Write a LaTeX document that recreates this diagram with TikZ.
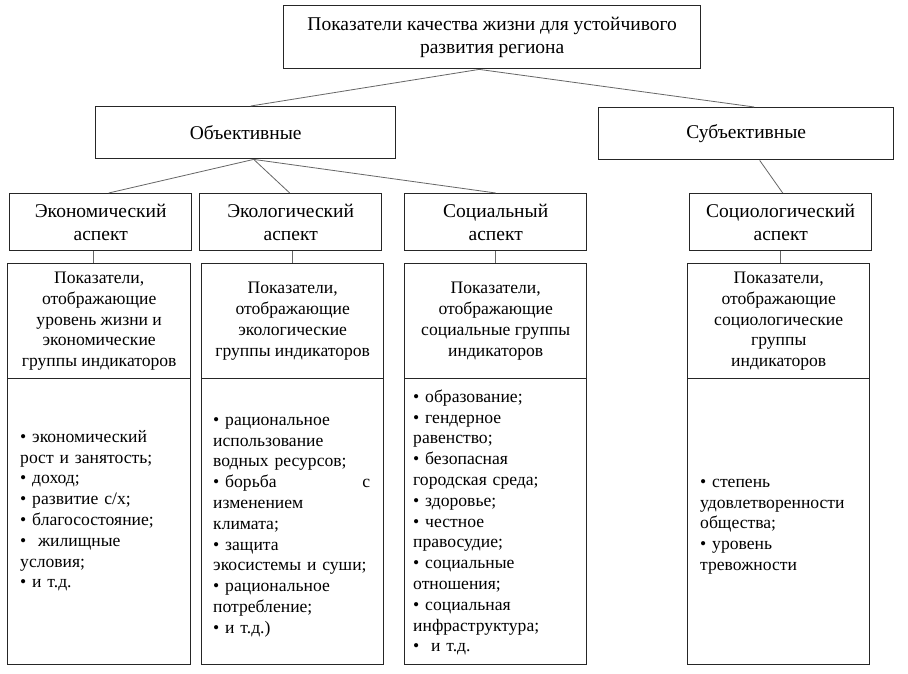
\documentclass[tikz,border=0pt]{standalone}
\usepackage{fontspec}
\setmainfont{Liberation Serif}
\newcommand{\fsz}{\fontsize{17.6}{20.8}\selectfont}
\newcommand{\fbig}{\fontsize{19.5}{22.6}\selectfont}
\tikzset{
  frame/.style={draw=black!85, line width=1.4pt, anchor=north west, inner sep=0pt, align=center, font=\fsz},
  upper/.style={frame, font=\fbig},
  link/.style={draw=black!60, line width=0.8pt},
  listtext/.style={anchor=north west, inner sep=0pt, align=left, font=\fsz},
}
\begin{document}
\begin{tikzpicture}[x=1pt,y=-1pt]
\useasboundingbox (0,0) rectangle (908,674);
\fill[white] (0,0) rectangle (908,674);

\node[upper, minimum width=417pt, minimum height=63pt] (top) at (283,5) {Показатели качества жизни для устойчивого\\развития региона};
\node[upper, minimum width=300pt, minimum height=52pt] (obj) at (95,106) {Объективные};
\node[upper, minimum width=295pt, minimum height=52pt] (subj) at (598,107) {Субъективные};

\node[upper, minimum width=182pt, minimum height=57pt] (eco) at (9,193) {Экономический\\аспект};
\node[upper, minimum width=182pt, minimum height=57pt] (ecl) at (199,193) {Экологический\\аспект};
\node[upper, minimum width=182pt, minimum height=57pt] (soc) at (404,193) {Социальный\\аспект};
\node[upper, minimum width=182pt, minimum height=57pt] (scl) at (689,193) {Социологический\\аспект};

\node[frame, minimum width=183pt, minimum height=115pt] (h1) at (7,263) {Показатели,\\отображающие\\уровень жизни и\\экономические\\группы индикаторов};
\node[frame, minimum width=182pt, minimum height=115pt] (h2) at (201,263) {Показатели,\\отображающие\\экологические\\группы индикаторов};
\node[frame, minimum width=182pt, minimum height=115pt] (h3) at (404,263) {Показатели,\\отображающие\\социальные группы\\индикаторов};
\node[frame, minimum width=182pt, minimum height=115pt] (h4) at (687,263) {Показатели,\\отображающие\\социологические\\группы\\индикаторов};

\node[frame, minimum width=183pt, minimum height=286pt] (b1) at (7,378) {};
\node[frame, minimum width=182pt, minimum height=286pt] (b2) at (201,378) {};
\node[frame, minimum width=182pt, minimum height=286pt] (b3) at (404,378) {};
\node[frame, minimum width=182pt, minimum height=286pt] (b4) at (687,378) {};

\node[listtext, text width=165pt] (t1) at (20,427.5) {\strut• экономический\\рост и занятость;\\• доход;\\• развитие с/х;\\• благосостояние;\\•\ \ жилищные\\условия;\\• и т.д.};
\node[listtext, text width=157pt] (t2) at (213,410.5) {\strut• рациональное\\использование\\водных ресурсов;\\• борьба\hfill с\\изменением\\климата;\\• защита\\экосистемы и суши;\\• рациональное\\потребление;\\• и т.д.)};
\node[listtext, text width=165pt] (t3) at (413,387.5) {\strut• образование;\\• гендерное\\равенство;\\• безопасная\\городская среда;\\• здоровье;\\• честное\\правосудие;\\• социальные\\отношения;\\• социальная\\инфраструктура;\\•\ \ и т.д.};
\node[listtext, text width=165pt] (t4) at (700,472.5) {\strut• степень\\удовлетворенности\\общества;\\• уровень\\тревожности};

\draw[link] ([xshift=-13pt]top.south) -- ([xshift=5pt]obj.north);
\draw[link] ([xshift=-13pt]top.south) -- ([xshift=8pt]subj.north);
\draw[link] ([xshift=8pt]obj.south) -- ([xshift=8pt]eco.north);
\draw[link] ([xshift=8pt]obj.south) -- ([xshift=-1pt]ecl.north);
\draw[link] ([xshift=8pt]obj.south) -- (soc.north);
\draw[link] ([xshift=13.5pt]subj.south) -- ([xshift=2pt]scl.north);
\draw[link] ([xshift=-7pt]eco.south) -- ([xshift=-5.5pt]h1.north);
\draw[link] ([xshift=2pt]ecl.south) -- (h2.north);
\draw[link] (soc.south) -- (h3.north);
\draw[link] (scl.south) -- ([xshift=2pt]h4.north);
\end{tikzpicture}
\end{document}
